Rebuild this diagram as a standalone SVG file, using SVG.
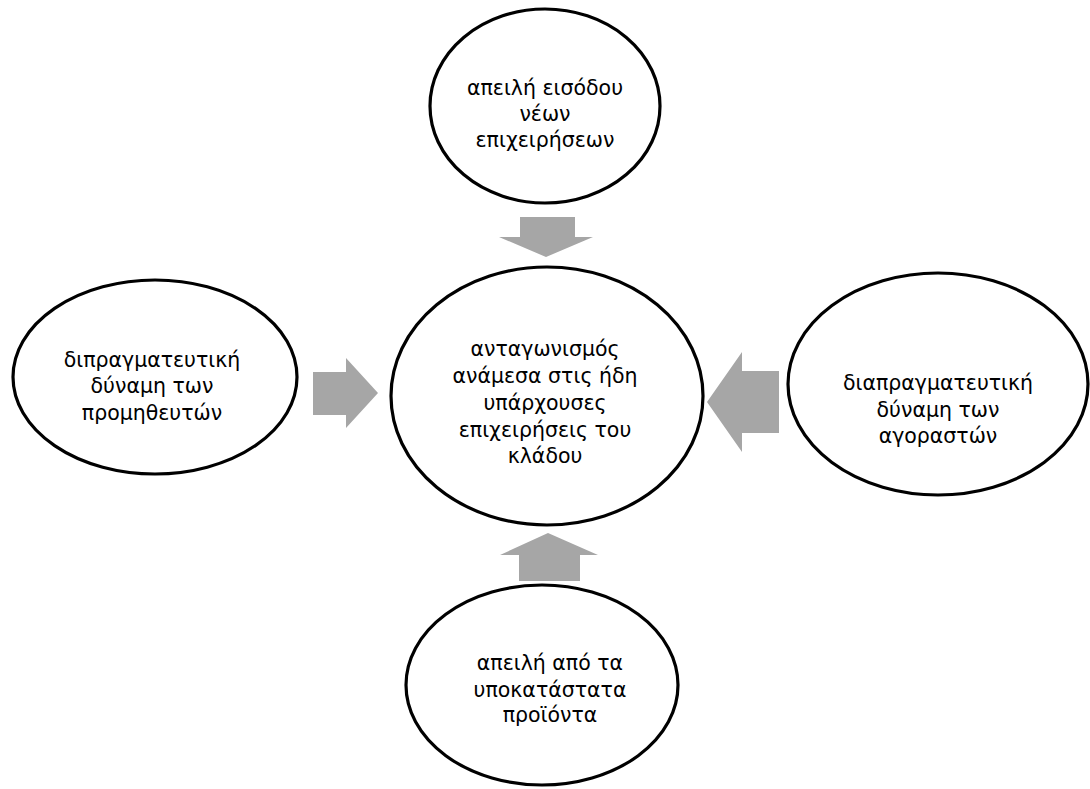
<svg xmlns="http://www.w3.org/2000/svg" width="1090" height="789" viewBox="0 0 1090 789">
<style>
.node ellipse{fill:#ffffff;stroke:#000000;stroke-width:3.2}
.node text{font-family:"DejaVu Sans",Verdana,sans-serif;font-size:20.5px;fill:#000000;text-anchor:middle}
.arrow{fill:#a6a6a6;stroke:none}
</style>
<rect width="1090" height="789" fill="#ffffff"/>
<g id="connectors">
<polygon class="arrow" points="520,217 575,217 575,237 593,237 546,257 499,237 520,237"/>
<polygon class="arrow" points="519,581 580,581 580,555 598,555 548,533 500,555 519,555"/>
<polygon class="arrow" points="313,372 346,372 346,358 378,393 346,428 346,415 313,415"/>
<polygon class="arrow" points="779,371 742,371 742,352 707,402 742,452 742,433 779,433"/>
</g>
<g id="node-top" class="node">
<ellipse cx="545" cy="106" rx="115" ry="97"/>
<text x="545" y="95">απειλή εισόδου</text>
<text x="545" y="121">νέων</text>
<text x="545" y="147">επιχειρήσεων</text>
</g>
<g id="node-center" class="node">
<ellipse cx="547" cy="396" rx="156" ry="129"/>
<text x="545" y="356">ανταγωνισμός</text>
<text x="545" y="383">ανάμεσα στις ήδη</text>
<text x="545" y="410">υπάρχουσες</text>
<text x="545" y="437">επιχειρήσεις του</text>
<text x="545" y="463">κλάδου</text>
</g>
<g id="node-left" class="node">
<ellipse cx="155" cy="377" rx="142" ry="97"/>
<text x="152" y="367">διπραγματευτική</text>
<text x="152" y="393">δύναμη των</text>
<text x="152" y="420">προμηθευτών</text>
</g>
<g id="node-right" class="node">
<ellipse cx="938" cy="384" rx="150" ry="111"/>
<text x="938" y="390">διαπραγματευτική</text>
<text x="938" y="417">δύναμη των</text>
<text x="938" y="443">αγοραστών</text>
</g>
<g id="node-bottom" class="node">
<ellipse cx="542" cy="685" rx="136" ry="100"/>
<text x="550" y="670">απειλή από τα</text>
<text x="550" y="697">υποκατάστατα</text>
<text x="550" y="722">προϊόντα</text>
</g>
</svg>
